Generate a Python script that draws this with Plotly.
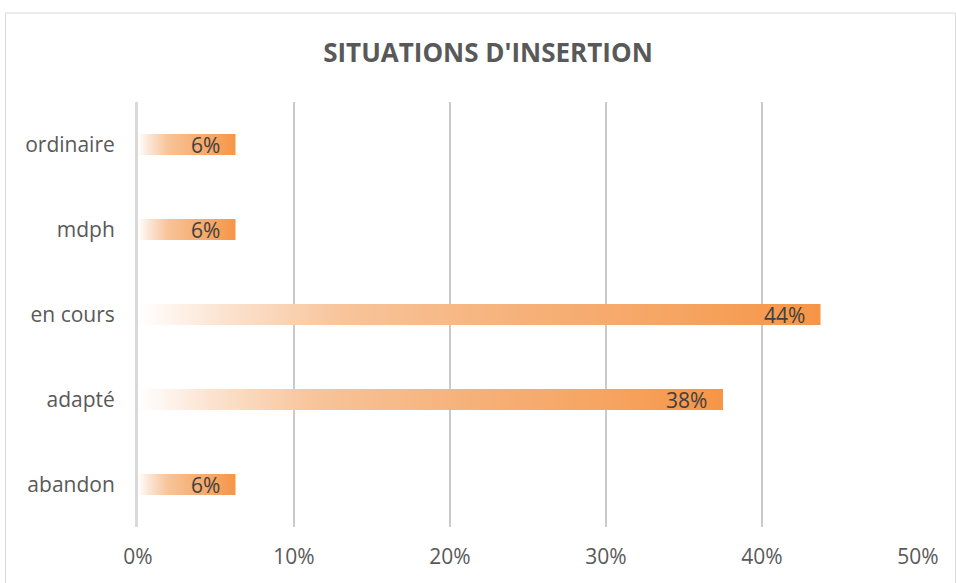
import plotly.graph_objects as go

categories = ["abandon", "adapté", "en cours", "mdph", "ordinaire"]
values = [0.0625, 0.375, 0.4375, 0.0625, 0.0625]
labels = ["6%", "38%", "44%", "6%", "6%"]
x_ticks = [0, 0.1, 0.2, 0.3, 0.4, 0.5]
x_ticklabels = ["0%", "10%", "20%", "30%", "40%", "50%"]

HALF = 0.124
GRAD = [[0.0, "rgba(255,255,255,1)"], [0.12, "#fce4d2"], [0.3, "#f8c49a"],
        [0.55, "#f6b27b"], [0.8, "#f6a461"], [1.0, "#f69546"]]

fig = go.Figure()
for i, v in enumerate(values):
    fig.add_trace(go.Scatter(
        x=[0, v, v, 0, 0],
        y=[i - HALF, i - HALF, i + HALF, i + HALF, i - HALF],
        mode="lines", fill="toself", line=dict(width=0),
        fillgradient=dict(type="horizontal", colorscale=GRAD),
        hoverinfo="skip", showlegend=False))

for i, (v, t) in enumerate(zip(values, labels)):
    fig.add_annotation(x=v, y=i, text=t, showarrow=False, xanchor="right",
                       xshift=-14, font=dict(family="Open Sans", size=21, color="#404040"))

fig.add_shape(type="rect", xref="paper", yref="paper",
              x0=(5.5 - 138) / 780, x1=(955.5 - 138) / 780,
              y0=(527.5 - 590) / 425, y1=(527.5 - 13.5) / 425,
              line=dict(color="#d9d9d9", width=1), fillcolor="rgba(0,0,0,0)", layer="below")

fig.update_layout(
    width=956, height=583,
    margin=dict(l=138, r=38, t=102, b=56),
    paper_bgcolor="white", plot_bgcolor="white",
    title=dict(text="<b>SITUATIONS D'INSERTION</b>", xref="container", x=488 / 956,
               xanchor="center", y=1 - 53 / 583, yanchor="middle",
               font=dict(family="Open Sans", size=26, color="#595959")),
    xaxis=dict(range=[0, 0.5], tickvals=x_ticks, ticktext=x_ticklabels,
               showgrid=True, gridcolor="#cacaca", gridwidth=1.6, zeroline=False,
               showline=False, ticks="", ticklabelstandoff=15,
               tickfont=dict(family="Open Sans", size=21, color="#595959")),
    yaxis=dict(range=[-0.5, 4.5], tickvals=list(range(len(categories))), ticktext=categories,
               showgrid=False, zeroline=False, showline=True, linecolor="#d9d9d9", linewidth=3,
               ticks="", ticklabelstandoff=16,
               tickfont=dict(family="Open Sans", size=21, color="#595959")),
)

fig.write_html("out.html", config={"displayModeBar": False},
               post_script="document.body.style.margin='0';")
